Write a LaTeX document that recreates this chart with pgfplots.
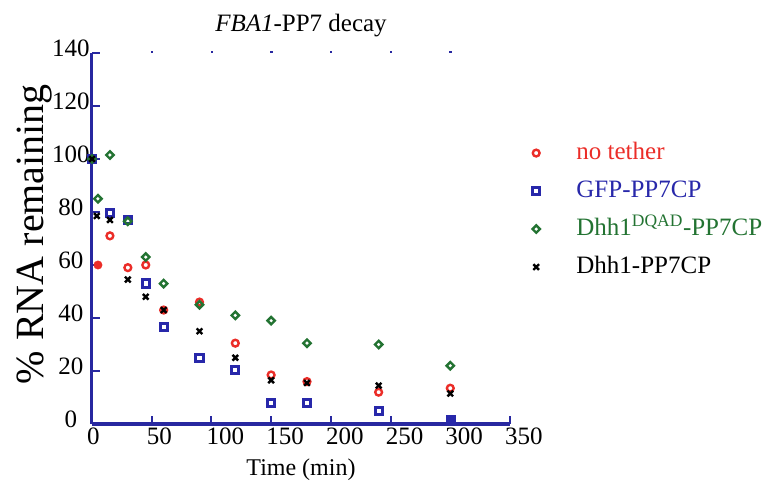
\documentclass[border=0pt]{standalone}
\usepackage{pgfplots}
\pgfplotsset{compat=1.18}
\usepackage{fontspec}
\setmainfont{Liberation Serif}
\definecolor{axblue}{RGB}{40,40,160}
\definecolor{cred}{RGB}{235,45,40}
\definecolor{cblue}{RGB}{40,40,170}
\definecolor{cgreen}{RGB}{35,115,50}
\begin{document}
\begin{tikzpicture}
\path[use as bounding box] (-92bp,-68bp) rectangle (684bp,424bp);
\begin{axis}[
  scale only axis, width=418bp, height=371bp,
  at={(0,0)}, anchor=south west,
  xmin=0, xmax=350, ymin=0, ymax=140,
  axis x line*=bottom, axis y line*=left, tick pos=left,
  axis line style={-, draw=axblue, line width=3bp},
  xtick={0,50,...,350}, ytick={0,20,...,140},
  tick align=inside, major tick length=8bp,
  tick style={draw=axblue, line width=2bp},
  /pgf/number format/assume math mode=true,
  tick label style={font=\fontsize{25bp}{28bp}\selectfont},
  xticklabel style={anchor=north west, inner sep=0pt, xshift=-5bp, yshift=-4bp},
  yticklabel style={anchor=center, inner sep=0pt, xshift=-21bp, yshift=5bp},
  title={\textit{FBA1}-PP7 decay},
  title style={at={(axis description cs:0.5,1.058)}, anchor=center, font=\fontsize{25bp}{28bp}\selectfont},
  xlabel={Time (min)},
  xlabel style={at={(axis description cs:0.5,-0.124)}, anchor=center, font=\fontsize{24bp}{28bp}\selectfont},
  ylabel={\% RNA remaining},
  ylabel style={at={(axis description cs:-0.138,0.512)}, anchor=center, font=\fontsize{40bp}{44bp}\selectfont},
  clip=false,
  every mark/.append style={solid},
  legend cell align=left,
  legend image code/.code={\path (0bp,0bp) (24bp,0bp); \draw[mark repeat=2,mark phase=2,#1] plot coordinates {(0bp,0bp)(12bp,0bp)(24bp,0bp)};},
  legend style={at={(rel axis cs:1.0335,0.768)}, anchor=north west, draw=none, fill=none,
    inner sep=0pt, outer sep=0pt, row sep=10bp, column sep=26bp,
    font=\fontsize{25bp}{28bp}\selectfont,
    nodes={inner sep=2bp, text height=18bp, text depth=6bp}},
]
\addplot[only marks, cred, mark=o, mark size=3.4bp, mark options={line width=2.4bp}] coordinates {
(0,100)(15,71)(30,59)(45,60)(60,43)(90,46)(120,30.5)(150,18.5)(180,16)(240,12)(300,13.5)};
\addlegendentry{\textcolor{cred}{no tether}}
\addplot[only marks, cblue, mark=square, mark size=3.6bp, mark options={line width=3bp}] coordinates {
(0,100)(15,79.5)(30,77)(45,53)(60,36.5)(90,25)(120,20.5)(150,8)(180,8)(240,5)};
\addlegendentry{\textcolor{cblue}{GFP-PP7CP}}
\addplot[only marks, cgreen, mark=square, mark size=2.6bp, mark options={rotate=45, line width=2.4bp}] coordinates {
(0,100)(5,85)(15,101.5)(30,76.5)(45,63)(60,53)(90,45)(120,41)(150,39)(180,30.5)(240,30)(300,22)};
\addlegendentry{\textcolor{cgreen}{Dhh1\textsuperscript{DQAD}-PP7CP}}
\addplot[only marks, black, mark=x, mark size=4bp, mark options={line width=2.4bp}] coordinates {
(0,100)(4,78.5)(15,77)(30,54.5)(45,48)(60,43)(90,35)(120,25)(150,16.5)(180,15.5)(240,14.5)(300,11.5)};
\addlegendentry{Dhh1-PP7CP}
\addplot[forget plot, only marks, cred, mark=*, mark size=4.2bp] coordinates {(5,60)};
\addplot[forget plot, only marks, cblue, mark=square*, mark size=4.5bp] coordinates {(300,1.7)};
\addplot[forget plot, only marks, axblue, mark=square*, mark size=0.7bp] coordinates {
(50,140.4)(100,140.4)(150,140.4)(200,140.4)(250,140.4)(300,140.4)};
\end{axis}
\end{tikzpicture}
\end{document}
